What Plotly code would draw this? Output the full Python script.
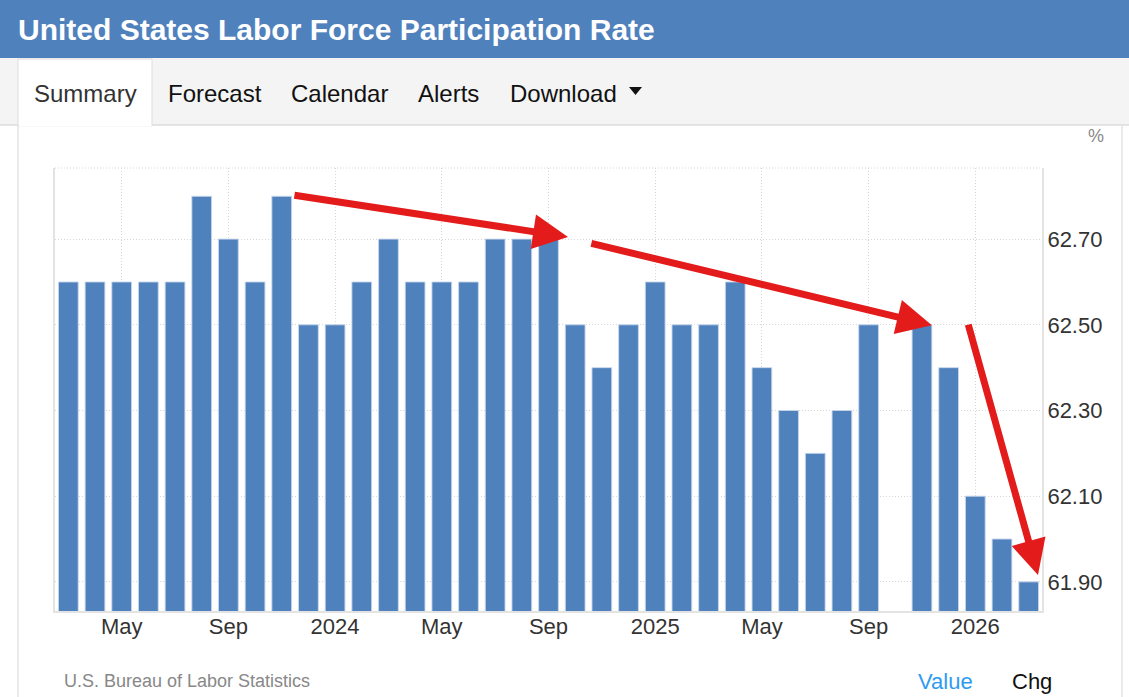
import plotly.graph_objects as go

# ---------------- data ----------------
months = [
    "Mar 2023", "Apr 2023", "May 2023", "Jun 2023", "Jul 2023", "Aug 2023", "Sep 2023",
    "Oct 2023", "Nov 2023", "Dec 2023", "Jan 2024", "Feb 2024", "Mar 2024", "Apr 2024",
    "May 2024", "Jun 2024", "Jul 2024", "Aug 2024", "Sep 2024", "Oct 2024", "Nov 2024",
    "Dec 2024", "Jan 2025", "Feb 2025", "Mar 2025", "Apr 2025", "May 2025", "Jun 2025",
    "Jul 2025", "Aug 2025", "Sep 2025", "Oct 2025", "Nov 2025", "Dec 2025", "Jan 2026",
    "Feb 2026", "Mar 2026",
]
rate = [
    62.6, 62.6, 62.6, 62.6, 62.6, 62.8, 62.7,
    62.6, 62.8, 62.5, 62.5, 62.6, 62.7, 62.6,
    62.6, 62.6, 62.7, 62.7, 62.7, 62.5, 62.4,
    62.5, 62.6, 62.5, 62.5, 62.6, 62.4, 62.3,
    62.2, 62.3, 62.5, None, 62.5, 62.4, 62.1,
    62.0, 61.9,
]
x_tick_vals = ["May 2023", "Sep 2023", "Jan 2024", "May 2024", "Sep 2024",
               "Jan 2025", "May 2025", "Sep 2025", "Jan 2026"]
x_tick_text = ["May", "Sep", "2024", "May", "Sep", "2025", "May", "Sep", "2026"]
y_tick_vals = [61.9, 62.1, 62.3, 62.5, 62.7]

# arrows: (tail index, tail value, head index, head value)
arrows = [
    (8.42, 62.803, 18.73, 62.705),
    (19.55, 62.691, 32.37, 62.499),
    (33.72, 62.504, 36.35, 61.916),
]

# ---------------- layout geometry ----------------
FIG_W, FIG_H = 1129, 697
L, R, T, B = 55, 1042, 168, 611
PW, PH = R - L, B - T

def px(x):
    return (x - L) / PW

def py(y):
    return (B - y) / PH

FONT = "Liberation Sans, Arial, Helvetica, sans-serif"
BAR_BLUE = "#4F81BD"
HEADER_BLUE = "#4F81BD"
RED = "#E41B1B"
GRID = "#D6D6D6"
DOTS = "1px,2px"

fig = go.Figure()
fig.add_trace(go.Bar(
    x=months, y=rate, width=0.74,
    marker=dict(color=BAR_BLUE, line=dict(color="rgba(200,215,235,0.9)", width=1)),
    hoverinfo="x+y",
))

shapes = []
# header band
shapes.append(dict(type="rect", xref="paper", yref="paper",
                   x0=px(0), x1=px(FIG_W), y0=py(0), y1=py(58),
                   fillcolor=HEADER_BLUE, line=dict(width=0), layer="below"))
# tab bar
shapes.append(dict(type="rect", xref="paper", yref="paper",
                   x0=px(0), x1=px(FIG_W), y0=py(58), y1=py(125),
                   fillcolor="#F4F4F4", line=dict(width=0), layer="below"))
shapes.append(dict(type="line", xref="paper", yref="paper",
                   x0=px(0), x1=px(FIG_W), y0=py(125), y1=py(125),
                   line=dict(color="#DDDDDD", width=1.5), layer="below"))
# active tab
shapes.append(dict(type="rect", xref="paper", yref="paper",
                   x0=px(18), x1=px(152), y0=py(59), y1=py(126),
                   fillcolor="white", line=dict(color="#DDDDDD", width=1), layer="below"))
shapes.append(dict(type="line", xref="paper", yref="paper",
                   x0=px(19), x1=px(151.5), y0=py(125.5), y1=py(125.5),
                   line=dict(color="white", width=2), layer="below"))
# caret of Download
shapes.append(dict(type="path", xref="paper", yref="paper",
                   path=f"M {px(629)},{py(87)} L {px(642)},{py(87)} L {px(635.5)},{py(95)} Z",
                   fillcolor="#111111", line=dict(width=0)))
# panel side borders
for xx in (18, 1122):
    shapes.append(dict(type="line", xref="paper", yref="paper",
                       x0=px(xx), x1=px(xx), y0=py(126), y1=py(FIG_H),
                       line=dict(color="#E3E3E3", width=1.5), layer="below"))
# top dotted border of the plot
shapes.append(dict(type="line", xref="paper", yref="paper",
                   x0=0, x1=1, y0=1, y1=1,
                   line=dict(color=GRID, width=1, dash=DOTS), layer="below"))

annotations = []
annotations.append(dict(xref="paper", yref="paper", x=px(16), y=py(29),
                        xanchor="left", yanchor="middle", showarrow=False,
                        text="<b>United States Labor Force Participation Rate</b>",
                        font=dict(family=FONT, size=30, color="white")))
tabs = [("Summary", 32, "#333333"), ("Forecast", 166, "#111111"),
        ("Calendar", 289, "#111111"), ("Alerts", 416, "#111111"),
        ("Download", 508, "#111111")]
for name, xx, col in tabs:
    annotations.append(dict(xref="paper", yref="paper", x=px(xx), y=py(93),
                            xanchor="left", yanchor="middle", showarrow=False,
                            text=name, font=dict(family=FONT, size=24, color=col)))
annotations.append(dict(xref="paper", yref="paper", x=px(1096), y=py(136),
                        xanchor="center", yanchor="middle", showarrow=False,
                        text="%", font=dict(family=FONT, size=18, color="#888888")))
annotations.append(dict(xref="paper", yref="paper", x=px(62), y=py(681),
                        xanchor="left", yanchor="middle", showarrow=False,
                        text="U.S. Bureau of Labor Statistics",
                        font=dict(family=FONT, size=18, color="#888888")))
annotations.append(dict(xref="paper", yref="paper", x=px(916), y=py(681),
                        xanchor="left", yanchor="middle", showarrow=False,
                        text="Value", font=dict(family=FONT, size=22, color="#2E9BF0")))
annotations.append(dict(xref="paper", yref="paper", x=px(1010), y=py(681),
                        xanchor="left", yanchor="middle", showarrow=False,
                        text="Chg", font=dict(family=FONT, size=22, color="#111111")))
for tx, ty, hx, hy in arrows:
    annotations.append(dict(xref="x", yref="y", axref="x", ayref="y",
                            x=hx, y=hy, ax=tx, ay=ty, text="",
                            showarrow=True, arrowhead=2, arrowsize=1.0,
                            arrowwidth=7, arrowcolor=RED, standoff=0, startstandoff=0))

fig.update_layout(
    width=FIG_W, height=FIG_H,
    margin=dict(l=L, r=FIG_W - R, t=T, b=FIG_H - B, pad=0),
    paper_bgcolor="white", plot_bgcolor="white",
    showlegend=False, bargap=0.26,
    font=dict(family=FONT, color="#333333"),
    shapes=shapes, annotations=annotations,
    xaxis=dict(type="category", categoryorder="array", categoryarray=months,
               range=[-0.5, len(months) - 0.5],
               tickmode="array", tickvals=x_tick_vals, ticktext=x_tick_text,
               tickfont=dict(family=FONT, size=22, color="#333333"),
               showgrid=True, gridcolor=GRID, griddash=DOTS, gridwidth=1,
               showline=True, linecolor="#E3E3E3", linewidth=2,
               ticks="", ticklabelstandoff=-5,
               zeroline=False, fixedrange=True),
    yaxis=dict(side="right", range=[61.832, 62.866],
               tickmode="array", tickvals=y_tick_vals, tickformat=".2f",
               tickfont=dict(family=FONT, size=22, color="#333333"),
               showgrid=True, gridcolor=GRID, griddash=DOTS, gridwidth=1,
               showline=True, mirror=True, linecolor="#E3E3E3", linewidth=2,
               ticks="", ticklabelstandoff=-1,
               zeroline=False, fixedrange=True),
)

fig.write_html("out.html")
